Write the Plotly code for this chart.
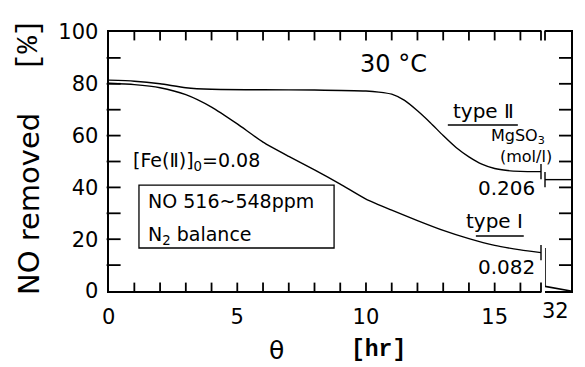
import plotly.graph_objects as go

# NO removal vs. time, 30 °C, two absorbent types
type1_hr = [0, 1, 2, 3, 4, 5, 6, 7, 8, 9, 10, 11, 12, 13, 14, 15, 16, 16.8]
type1_pct = [80.2, 79.7, 78.5, 75.8, 71.0, 64.5, 57.5, 52.0, 46.8, 41.3, 35.5, 31.2, 27.2, 23.4, 20.2, 17.6, 15.9, 14.8]

type2_hr = [0, 1, 2, 3, 4, 6, 8, 10, 10.5, 11, 11.5, 12, 12.5, 13, 13.5, 14, 14.5, 15, 15.5, 16, 16.8]
type2_pct = [81.4, 81.0, 80.0, 78.5, 77.9, 77.7, 77.6, 77.2, 76.8, 76.0, 73.6, 69.6, 65.0, 60.0, 55.4, 51.8, 49.0, 47.3, 46.5, 46.2, 46.1]

# long-time tail (compressed axis segment out to 32 hr)
tail2_hr = [17, 32]
tail2_pct = [43, 43]
tail1_hr = [17, 17, 32]
tail1_pct = [16.6, 1.8, 0]

# axis ranges, tick positions and labels
X_RANGE = [0, 16.8]
X2_RANGE = [17, 32]
Y_RANGE = [0, 100]
x_tick_pos = list(range(1, 17)) + [16.8]
x_label_pos = [0, 5, 10, 15]
y_tick_pos = list(range(10, 100, 10))
y_label_pos = list(range(0, 101, 20))
x2_tick_pos = [17]

# figure geometry (pixels)
W, H = 585, 367
MAIN_L, MAIN_R, GAP_R, TAIL_R = 108.6, 541.0, 545.0, 571.0
PLOT_T, PLOT_B = 32.0, 291.0

BLACK = "#000000"
FONT = "DejaVu Sans"
TICKFONT = dict(family=FONT, size=21, color=BLACK)

fig = go.Figure()

cap_marker = dict(symbol="line-ns-open", size=11, color=BLACK, line=dict(color=BLACK, width=1.4))
curve_line = dict(color=BLACK, width=1.4, shape="spline", smoothing=0.6)

fig.add_trace(go.Scatter(x=type2_hr, y=type2_pct, mode="lines", line=curve_line,
                         xaxis="x", yaxis="y", hoverinfo="skip"))
fig.add_trace(go.Scatter(x=type1_hr, y=type1_pct, mode="lines", line=curve_line,
                         xaxis="x", yaxis="y", hoverinfo="skip"))
# end caps where the main-range curves stop
fig.add_trace(go.Scatter(x=[type2_hr[-1], type1_hr[-1]], y=[type2_pct[-1], type1_pct[-1]],
                         mode="markers", marker=cap_marker, xaxis="x", yaxis="y",
                         hoverinfo="skip", cliponaxis=False))
fig.add_trace(go.Scatter(x=tail2_hr, y=tail2_pct, mode="lines",
                         line=dict(color=BLACK, width=1.4), xaxis="x2", yaxis="y2", hoverinfo="skip"))
fig.add_trace(go.Scatter(x=tail2_hr[:1], y=tail2_pct[:1], mode="markers", marker=cap_marker,
                         xaxis="x2", yaxis="y2", hoverinfo="skip", cliponaxis=False))
fig.add_trace(go.Scatter(x=tail1_hr, y=tail1_pct, mode="lines",
                         line=dict(color=BLACK, width=1.6), xaxis="x2", yaxis="y2", hoverinfo="skip"))

# inward tick marks: line markers centred half a tick length inside each axis
px_per_y = (PLOT_B - PLOT_T) / (Y_RANGE[1] - Y_RANGE[0])
px_per_x = (MAIN_R - MAIN_L) / (X_RANGE[1] - X_RANGE[0])
px_per_x2 = (TAIL_R - GAP_R) / (X2_RANGE[1] - X2_RANGE[0])
XTICK_PX, YTICK_PX = 7, 10
x_half = XTICK_PX / 2 / px_per_y
y_half = YTICK_PX / 2 / px_per_x
y2_half = YTICK_PX / 2 / px_per_x2

tick_ns = dict(symbol="line-ns", size=XTICK_PX, color=BLACK, line=dict(color=BLACK, width=1.8))
tick_ew = dict(symbol="line-ew", size=YTICK_PX, color=BLACK, line=dict(color=BLACK, width=1.8))

fig.add_trace(go.Scatter(
    x=x_tick_pos + x_tick_pos,
    y=[Y_RANGE[0] + x_half] * len(x_tick_pos) + [Y_RANGE[1] - x_half] * len(x_tick_pos),
    mode="markers", marker=tick_ns, xaxis="x", yaxis="y", hoverinfo="skip", cliponaxis=False))
fig.add_trace(go.Scatter(
    x=[X_RANGE[0] + y_half] * len(y_tick_pos), y=y_tick_pos,
    mode="markers", marker=tick_ew, xaxis="x", yaxis="y", hoverinfo="skip", cliponaxis=False))
fig.add_trace(go.Scatter(
    x=[X2_RANGE[1] - y2_half] * len(y_tick_pos), y=y_tick_pos,
    mode="markers", marker=tick_ew, xaxis="x2", yaxis="y2", hoverinfo="skip", cliponaxis=False))
fig.add_trace(go.Scatter(
    x=x2_tick_pos, y=[Y_RANGE[1] - x_half] * len(x2_tick_pos),
    mode="markers", marker=tick_ns, xaxis="x2", yaxis="y2", hoverinfo="skip", cliponaxis=False))

axis_base = dict(showline=True, linecolor=BLACK, linewidth=2, showgrid=False, zeroline=False,
                 ticks="", automargin=False, tickfont=TICKFONT)

fig.update_layout(
    width=W, height=H,
    margin=dict(l=0, r=0, t=0, b=0),
    paper_bgcolor="white", plot_bgcolor="white",
    showlegend=False,
    xaxis=dict(domain=[MAIN_L / W, MAIN_R / W], range=X_RANGE, tickmode="array",
               tickvals=x_label_pos, mirror=True, anchor="y", ticklabelstandoff=6, **axis_base),
    yaxis=dict(domain=[1 - PLOT_B / H, 1 - PLOT_T / H], range=Y_RANGE, tickmode="array",
               tickvals=y_label_pos, anchor="x", ticklabelstandoff=4, **axis_base),
    xaxis2=dict(domain=[GAP_R / W, TAIL_R / W], range=X2_RANGE, showticklabels=False,
                mirror=True, anchor="y2", **axis_base),
    yaxis2=dict(domain=[1 - PLOT_B / H, 1 - PLOT_T / H], range=Y_RANGE, showticklabels=False,
                side="right", anchor="x2", **axis_base),
)


def note(text, x, y, size=20, xanchor="center", yanchor="middle", ref="data", family=FONT, **kw):
    xref, yref = ("x", "y") if ref == "data" else ("paper", "paper")
    fig.add_annotation(text=text, x=x, y=y, xref=xref, yref=yref, showarrow=False,
                       xanchor=xanchor, yanchor=yanchor,
                       font=dict(family=family, size=size, color=BLACK), **kw)


note("30 °C", 11.05, 87.6, size=24)
note("[Fe(Ⅱ)]<sub>0</sub>=0.08", 0.88, 50.0, size=19, xanchor="left")
note("NO 516~548ppm", 1.45, 34.6, size=19, xanchor="left")
note("N<sub>2</sub> balance", 1.45, 21.4, size=19, xanchor="left")
note("type Ⅱ", 14.57, 69.6, size=20)
note("MgSO<sub>3</sub>", 15.9, 59.5, size=16)
note("(mol/l)", 16.2, 51.8, size=16)
note("0.206", 15.46, 39.8, size=20)
note("type Ⅰ", 15.0, 26.9, size=20)
note("0.082", 15.44, 9.3, size=20)

# end-of-range label for the compressed segment
fig.add_annotation(text=str(X2_RANGE[1]), x=X2_RANGE[1], y=Y_RANGE[0], xref="x2", yref="y2",
                   showarrow=False, xanchor="right", yanchor="top", yshift=-6,
                   font=dict(family=FONT, size=21, color=BLACK))

# underlines beneath the type labels
for x0, x1, yv in [(13.18, 15.9, 64.1), (14.27, 16.13, 21.2)]:
    fig.add_shape(type="line", xref="x", yref="y", x0=x0, x1=x1, y0=yv, y1=yv,
                  line=dict(color=BLACK, width=1.5))

# box around the gas-conditions text
fig.add_shape(type="rect", xref="x", yref="y", x0=1.18, x1=8.76, y0=16.6, y1=40.9,
              line=dict(color=BLACK, width=1.3))

# axis titles
note("NO removed", 29 / W, 1 - 204 / H, size=29, ref="paper", textangle=-90)
note("[%]", 29 / W, 1 - 45 / H, size=29, ref="paper", textangle=-90, family="Liberation Mono")
note("θ", 276 / W, 1 - 350 / H, size=25, ref="paper", family="DejaVu Sans")
note("<b>[hr]</b>", 378 / W, 1 - 350 / H, size=23, ref="paper", family="Liberation Mono")

fig.write_html("out.html")
